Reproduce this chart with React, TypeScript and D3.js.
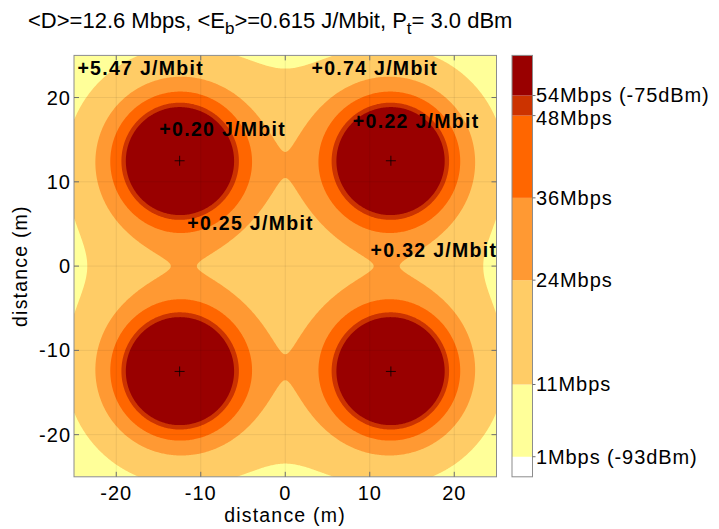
import React, { useMemo } from 'react';
import * as d3 from 'd3';

const W = 719;
const H = 529;

// Access points (m)
const apX = [-12.5, 12.5, -12.5, 12.5];
const apY = [12.5, 12.5, -12.5, -12.5];
// Propagation model parameters
const refPowerDbm = -51; // received power at 1 m
const pathLossExponent = 3;

// Contour levels of the coverage field (dBm) and their fill colours
const fieldThresholdsDbm = [-93, -84.25, -80.6, -78.2, -76.0, -75.0];
const bandColors = ['#ffff99', '#ffcc66', '#ff9933', '#ff6600', '#cc3300', '#990000'];
const belowColor = '#ffffff';

// Colorbar
const colorbarDomain = [-94, -73];
const colorbarEdgesDbm = [-93, -89.4, -84.2, -80.1, -76, -75];
const colorbarLabels = ['1Mbps (-93dBm)', '11Mbps', '24Mbps', '36Mbps', '48Mbps', '54Mbps (-75dBm)'];
const colorbarLabelDbm = [-93, -89.4, -84.2, -80.1, -76.1, -74.95];

const axisTicks = [-20, -10, 0, 10, 20];

const energyLabels = ['+5.47 J/Mbit', '+0.74 J/Mbit', '+0.20 J/Mbit', '+0.22 J/Mbit', '+0.25 J/Mbit', '+0.32 J/Mbit'];
const energyLabelX = [-24.6, 3.1, -14.9, 8.0, -11.6, 10.1];
const energyLabelY = [23.5, 23.5, 16.3, 17.2, 5.1, 1.9];

const FONT = '"Liberation Sans", Arial, Helvetica, sans-serif';

export default function App() {
  const left = 74, right = 496.5, top = 55.4, bottom = 476.8;
  const x = d3.scaleLinear().domain([-25, 25]).range([left, right]);
  const y = d3.scaleLinear().domain([-25, 25]).range([bottom, top]);

  const N = 400;
  const contours = useMemo(() => {
    const step = 50 / N;
    const values = new Float64Array(N * N);
    for (let j = 0; j < N; j++) {
      const py = 25 - (j + 0.5) * step;
      for (let i = 0; i < N; i++) {
        const px = -25 + (i + 0.5) * step;
        let s = 0;
        for (let k = 0; k < apX.length; k++) {
          const d = Math.max(0.05, Math.hypot(px - apX[k], py - apY[k]));
          s += Math.pow(10, (refPowerDbm - 10 * pathLossExponent * Math.log10(d)) / 10);
        }
        values[j * N + i] = 10 * Math.log10(s);
      }
    }
    return d3.contours().size([N, N]).thresholds(fieldThresholdsDbm)(Array.from(values));
  }, []);

  const gx = d3.scaleLinear().domain([0, N]).range([left, right]);
  const gy = d3.scaleLinear().domain([0, N]).range([top, bottom]);
  const path = d3.geoPath(
    d3.geoTransform({
      point(px: number, py: number) {
        (this as any).stream.point(gx(px), gy(py));
      },
    })
  );

  const cb = d3.scaleLinear().domain(colorbarDomain).range([bottom, top]);
  const cbLeft = 512, cbW = 20.5;
  const cbStops = [colorbarDomain[0], ...colorbarEdgesDbm, colorbarDomain[1]];
  const cbColors = [belowColor, ...bandColors];

  const tickLen = 5;

  return (
    <svg width={W} height={H} style={{ position: 'absolute', left: 0, top: 0, background: '#fff' }} fontFamily={FONT}>
      <defs>
        <clipPath id="plotclip">
          <rect x={left} y={top} width={right - left} height={bottom - top} />
        </clipPath>
      </defs>
      {/* title */}
      <text x={28} y={28} fontSize={22} fill="#000">
        {'<D>=12.6 Mbps, <E'}
        <tspan fontSize={17} dy={6}>b</tspan>
        <tspan dy={-6}>{'>=0.615 J/Mbit, P'}</tspan>
        <tspan fontSize={17} dy={6}>t</tspan>
        <tspan dy={-6}>{'= 3.0 dBm'}</tspan>
      </text>

      <g clipPath="url(#plotclip)">
        <rect x={left} y={top} width={right - left} height={bottom - top} fill={belowColor} />
        {contours.map((c, i) => (
          <path key={i} d={path(c as any) || ''} fill={bandColors[i]} stroke="none" />
        ))}
        {/* faint grid */}
        {axisTicks.map((t) => (
          <g key={'g' + t}>
            <line x1={x(t)} x2={x(t)} y1={top} y2={bottom} stroke="#000" strokeOpacity={0.07} />
            <line x1={left} x2={right} y1={y(t)} y2={y(t)} stroke="#000" strokeOpacity={0.07} />
          </g>
        ))}
        {/* AP markers */}
        {apX.map((ax, i) => (
          <g key={'ap' + i} stroke="#000" strokeWidth={0.8}>
            <line x1={x(ax) - 5} x2={x(ax) + 5} y1={y(apY[i])} y2={y(apY[i])} />
            <line x1={x(ax)} x2={x(ax)} y1={y(apY[i]) - 5} y2={y(apY[i]) + 5} />
          </g>
        ))}
      </g>

      {/* axes box and ticks */}
      <rect x={left} y={top} width={right - left} height={bottom - top} fill="none" stroke="#8c8c8c" strokeWidth={1} />
      {axisTicks.map((t) => (
        <g key={'t' + t} stroke="#6e6e6e" strokeWidth={1}>
          <line x1={x(t)} x2={x(t)} y1={bottom} y2={bottom - tickLen} />
          <line x1={x(t)} x2={x(t)} y1={top} y2={top + tickLen} />
          <line x1={left} x2={left + tickLen} y1={y(t)} y2={y(t)} />
          <line x1={right} x2={right - tickLen} y1={y(t)} y2={y(t)} />
        </g>
      ))}
      {axisTicks.map((t) => (
        <text key={'xl' + t} x={x(t)} y={500} fontSize={20} letterSpacing={1} textAnchor="middle" fill="#000">
          {t}
        </text>
      ))}
      {axisTicks.map((t) => (
        <text key={'yl' + t} x={71} y={y(t) + 7} fontSize={20} letterSpacing={1} textAnchor="end" fill="#000">
          {t}
        </text>
      ))}
      <text x={285} y={522} fontSize={19.5} letterSpacing={1.2} textAnchor="middle" fill="#000">
        distance (m)
      </text>
      <text transform={`translate(27,${(top + bottom) / 2}) rotate(-90)`} fontSize={19.5} letterSpacing={1.2} textAnchor="middle" fill="#000">
        distance (m)
      </text>

      {/* energy labels */}
      {energyLabels.map((s, i) => (
        <text key={'e' + i} x={x(energyLabelX[i])} y={y(energyLabelY[i]) + 7} fontSize={19.5} fontWeight="bold" letterSpacing={1.3} fill="#000">
          {s}
        </text>
      ))}

      {/* colorbar */}
      {cbColors.map((c, i) => (
        <rect key={'cb' + i} x={cbLeft} width={cbW} y={cb(cbStops[i + 1])} height={cb(cbStops[i]) - cb(cbStops[i + 1])} fill={c} />
      ))}
      <rect x={cbLeft} y={top} width={cbW} height={bottom - top} fill="none" stroke="#8c8c8c" />
      {colorbarEdgesDbm.map((v, i) => (
        <line key={'cbt' + i} x1={cbLeft + cbW} x2={cbLeft + cbW + 3} y1={cb(v)} y2={cb(v)} stroke="#6e6e6e" />
      ))}
      {colorbarLabels.map((s, i) => (
        <text key={'cbl' + i} x={536} y={cb(colorbarLabelDbm[i]) + 7} fontSize={20} letterSpacing={0.9} fill="#000">
          {s}
        </text>
      ))}
    </svg>
  );
}
